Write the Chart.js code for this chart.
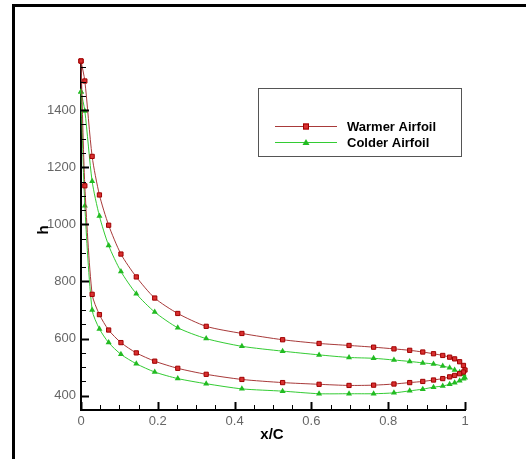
<!DOCTYPE html>
<html>
<head>
<meta charset="utf-8">
<script src="https://cdn.jsdelivr.net/npm/chart.js@4"></script>
<style>
  body { margin: 0; background: #fff; }
  #wrap { position: relative; width: 526px; height: 459px; }
</style>
</head>
<body>
<div id="wrap"><canvas id="airfoilChart" width="526" height="459"></canvas></div>
<script>
// x/C stations (shared by both surfaces, leading edge -> trailing edge)
const xStations = [0, 0.010, 0.029, 0.048, 0.072, 0.104, 0.144, 0.192, 0.252, 0.326, 0.419, 0.525,
  0.620, 0.698, 0.762, 0.815, 0.856, 0.890, 0.918, 0.942, 0.960, 0.973, 0.986, 0.996, 1.0];

// h along the upper and lower surfaces
const warmUpper = [1572, 1502, 1238, 1103, 997, 896, 816, 742, 688, 643, 618, 596,
  583, 576, 570, 564, 559, 553, 547, 541, 535, 529, 519, 506, 490];
const warmLower = [1572, 1135, 755, 684, 630, 586, 550, 521, 496, 475, 457, 446,
  440, 436, 437, 441, 446, 450, 455, 460, 466, 471, 477, 483, 490];
const coldUpper = [1464, 1397, 1151, 1029, 926, 835, 757, 693, 638, 600, 573, 556,
  543, 534, 531, 525, 520, 515, 511, 504, 498, 490, 482, 475, 463];
const coldLower = [1464, 1065, 700, 634, 586, 545, 512, 483, 460, 442, 424, 416,
  407, 407, 407, 410, 417, 423, 430, 434, 440, 445, 452, 459, 463];

const xTicks = [0, 0.2, 0.4, 0.6, 0.8, 1];
const yTicks = [400, 600, 800, 1000, 1200, 1400];

// closed loop: upper LE->TE, then lower TE->LE
function loop(upper, lower) {
  const pts = xStations.map((x, i) => ({ x: x, y: upper[i] }));
  for (let i = xStations.length - 2; i >= 0; i--) pts.push({ x: xStations[i], y: lower[i] });
  return pts;
}

const warmColor = '#a83a3a';
const coldColor = '#33cc33';

const frameAndTicks = {
  id: 'frameAndTicks',
  beforeDraw(chart) {
    const c = chart.ctx;
    c.save();
    c.fillStyle = '#fff';
    c.fillRect(0, 0, chart.width, chart.height);
    c.fillStyle = '#000';
    c.fillRect(12, 4, chart.width - 12, 3);
    c.fillRect(12, 4, 3, chart.height - 4);
    c.restore();
  },
  afterDraw(chart) {
    const c = chart.ctx;
    const xs = chart.scales.x, ys = chart.scales.y;
    const a = chart.chartArea;
    c.save();
    c.strokeStyle = '#000';
    // x ticks pointing inward
    for (let v = 0; v <= 1.0001; v += 0.05) {
      const major = Math.abs(v * 5 - Math.round(v * 5)) < 1e-6;
      const px = Math.round(xs.getPixelForValue(v)) + 0.5;
      c.lineWidth = major ? 2 : 1;
      c.beginPath();
      c.moveTo(px, a.bottom);
      c.lineTo(px, a.bottom - (major ? 8 : 5));
      c.stroke();
    }
    // y ticks pointing inward
    for (let v = 400; v <= 1550; v += 50) {
      const major = v % 200 === 0;
      const py = Math.round(ys.getPixelForValue(v)) + 0.5;
      c.lineWidth = major ? 2 : 1;
      c.beginPath();
      c.moveTo(a.left, py);
      c.lineTo(a.left + (major ? 8 : 5), py);
      c.stroke();
    }
    // axis titles
    c.fillStyle = '#000';
    c.font = 'bold 15px "Liberation Sans", Arial, sans-serif';
    c.textAlign = 'center';
    c.textBaseline = 'middle';
    c.fillText('x/C', 272, 435);
    c.translate(44, 230);
    c.rotate(-Math.PI / 2);
    c.fillText('h', 0, 0);
    c.restore();

    // legend box
    c.save();
    c.strokeStyle = '#555';
    c.lineWidth = 1;
    c.strokeRect(258.5, 88.5, 203, 68);
    const items = [
      { label: 'Warmer Airfoil', color: warmColor, y: 126, ds: 0 },
      { label: 'Colder Airfoil', color: coldColor, y: 142, ds: 1 }
    ];
    items.forEach(it => {
      c.strokeStyle = it.color;
      c.lineWidth = 1;
      c.beginPath();
      c.moveTo(275, it.y + 0.5);
      c.lineTo(337, it.y + 0.5);
      c.stroke();
      const d = chart.data.datasets[it.ds];
      c.fillStyle = d.pointBackgroundColor;
      c.strokeStyle = d.pointBorderColor;
      if (it.ds === 0) {
        c.fillRect(303, it.y - 2.5, 6, 6);
        c.strokeRect(303.5, it.y - 2, 5, 5);
      } else {
        c.beginPath();
        c.moveTo(306, it.y - 3);
        c.lineTo(309.5, it.y + 3);
        c.lineTo(302.5, it.y + 3);
        c.closePath();
        c.fill();
      }
      c.fillStyle = '#000';
      c.font = 'bold 13px "Liberation Sans", Arial, sans-serif';
      c.textAlign = 'left';
      c.textBaseline = 'middle';
      c.fillText(it.label, 347, it.y + 1);
    });
    c.restore();
  }
};

new Chart(document.getElementById('airfoilChart'), {
  type: 'scatter',
  data: {
    datasets: [{
      label: 'Warmer Airfoil',
      data: loop(warmUpper, warmLower),
      showLine: true,
      clip: false,
      borderColor: warmColor,
      borderWidth: 1,
      tension: 0.25,
      pointStyle: 'rect',
      pointRadius: 3,
      pointBackgroundColor: '#d83030',
      pointBorderColor: '#a00000',
      pointBorderWidth: 1
    }, {
      label: 'Colder Airfoil',
      data: loop(coldUpper, coldLower),
      showLine: true,
      clip: false,
      borderColor: coldColor,
      borderWidth: 1,
      tension: 0.25,
      pointStyle: 'triangle',
      pointRadius: 3.5,
      pointBackgroundColor: '#22bb22',
      pointBorderColor: '#22bb22',
      pointBorderWidth: 0
    }]
  },
  options: {
    responsive: false,
    animation: false,
    layout: { padding: { left: 0, top: 61, right: 61, bottom: 0 } },
    plugins: {
      legend: { display: false },
      tooltip: { enabled: false }
    },
    scales: {
      x: {
        type: 'linear',
        min: 0,
        max: 1,
        afterBuildTicks: s => { s.ticks = xTicks.map(v => ({ value: v })); },
        afterFit: s => { s.height = 49; },
        grid: { display: false, drawTicks: false },
        border: { display: true, color: '#000', width: 2 },
        ticks: {
          padding: 4,
          color: '#666',
          font: { size: 13, family: '"Liberation Sans", Arial, sans-serif' },
          maxRotation: 0,
          callback: v => String(v)
        }
      },
      y: {
        min: 350,
        max: 1572,
        afterBuildTicks: s => { s.ticks = yTicks.map(v => ({ value: v })); },
        afterFit: s => { s.width = 81; },
        grid: { display: false, drawTicks: false },
        border: { display: true, color: '#000', width: 2 },
        ticks: {
          padding: 5,
          color: '#666',
          font: { size: 13, family: '"Liberation Sans", Arial, sans-serif' },
          callback: v => String(v)
        }
      }
    }
  },
  plugins: [frameAndTicks]
});
</script>
</body>
</html>
